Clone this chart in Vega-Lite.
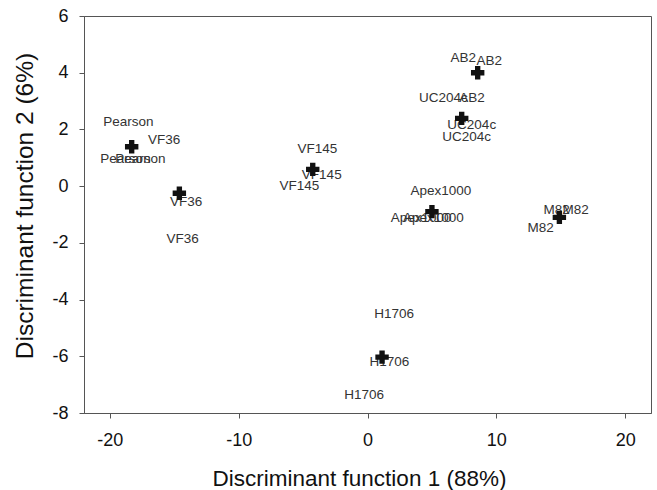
{
  "$schema": "https://vega.github.io/schema/vega-lite/v6.json",
  "autosize": {"type": "none"},
  "width": 567,
  "height": 397,
  "padding": {"left": 84, "top": 16, "right": 6, "bottom": 77},
  "background": "white",
  "config": {
    "view": {"stroke": "#555555", "strokeWidth": 1},
    "font": "Liberation Sans",
    "axis": {
      "grid": false,
      "domainColor": "#555555",
      "tickColor": "#555555",
      "tickSize": 5,
      "labelFont": "Liberation Sans",
      "labelFontSize": 18,
      "labelColor": "#111111",
      "titleFont": "Liberation Sans",
      "titleFontWeight": "normal",
      "titleColor": "#111111"
    }
  },
  "datasets": {
    "centroids": [
      {"group": "Pearson", "f1": -18.3, "f2": 1.39},
      {"group": "VF36", "f1": -14.6, "f2": -0.25},
      {"group": "VF145", "f1": -4.25, "f2": 0.59},
      {"group": "AB2", "f1": 8.55, "f2": 4.0},
      {"group": "UC204c", "f1": 7.31, "f2": 2.39},
      {"group": "Apex1000", "f1": 5.0, "f2": -0.9},
      {"group": "M82", "f1": 14.89, "f2": -1.1},
      {"group": "H1706", "f1": 1.13, "f2": -6.03}
    ],
    "cases": [
      {"group": "Pearson", "f1": -18.56, "f2": 2.27},
      {"group": "Pearson", "f1": -18.78, "f2": 0.95},
      {"group": "Pearson", "f1": -17.62, "f2": 0.95},
      {"group": "VF36", "f1": -15.79, "f2": 1.63},
      {"group": "VF36", "f1": -14.08, "f2": -0.57},
      {"group": "VF36", "f1": -14.34, "f2": -1.86},
      {"group": "VF145", "f1": -3.89, "f2": 1.31},
      {"group": "VF145", "f1": -3.55, "f2": 0.39},
      {"group": "VF145", "f1": -5.29, "f2": 0.02},
      {"group": "AB2", "f1": 7.44, "f2": 4.51},
      {"group": "AB2", "f1": 9.45, "f2": 4.41},
      {"group": "AB2", "f1": 8.11, "f2": 3.12},
      {"group": "UC204c", "f1": 5.88, "f2": 3.12},
      {"group": "UC204c", "f1": 8.09, "f2": 2.16},
      {"group": "UC204c", "f1": 7.70, "f2": 1.74},
      {"group": "Apex1000", "f1": 5.70, "f2": -0.17},
      {"group": "Apex1000", "f1": 4.17, "f2": -1.13},
      {"group": "Apex1000", "f1": 5.12, "f2": -1.13},
      {"group": "M82", "f1": 14.68, "f2": -0.84},
      {"group": "M82", "f1": 16.16, "f2": -0.84},
      {"group": "M82", "f1": 13.44, "f2": -1.49},
      {"group": "H1706", "f1": 2.06, "f2": -4.51},
      {"group": "H1706", "f1": 1.69, "f2": -6.21},
      {"group": "H1706", "f1": -0.27, "f2": -7.36}
    ]
  },
  "layer": [
    {
      "data": {"name": "cases"},
      "mark": {"type": "text", "font": "Liberation Sans", "fontSize": 13.5, "color": "#333333", "align": "center", "baseline": "middle"},
      "encoding": {
        "x": {
          "field": "f1", "type": "quantitative",
          "scale": {"domain": [-22, 22], "nice": false, "zero": false},
          "axis": {"values": [-20, -10, 0, 10, 20], "labelExpr": "toString(datum.value)", "title": "Discriminant function 1 (88%)", "titleFontSize": 22.5, "titleX": 275, "labelPadding": 13, "titlePadding": 18}
        },
        "y": {
          "field": "f2", "type": "quantitative",
          "scale": {"domain": [-8, 6], "nice": false, "zero": false},
          "axis": {"values": [-8, -6, -4, -2, 0, 2, 4, 6], "labelExpr": "toString(datum.value)", "title": "Discriminant function 2 (6%)", "titleFontSize": 24.5, "titleY": 189.5, "labelPadding": 11, "titlePadding": 14}
        },
        "text": {"field": "group"}
      }
    },
    {
      "data": {"name": "centroids"},
      "mark": {"type": "point", "shape": "cross", "filled": true, "size": 180, "color": "#111111", "opacity": 1},
      "encoding": {
        "x": {"field": "f1", "type": "quantitative"},
        "y": {"field": "f2", "type": "quantitative"}
      }
    }
  ]
}
